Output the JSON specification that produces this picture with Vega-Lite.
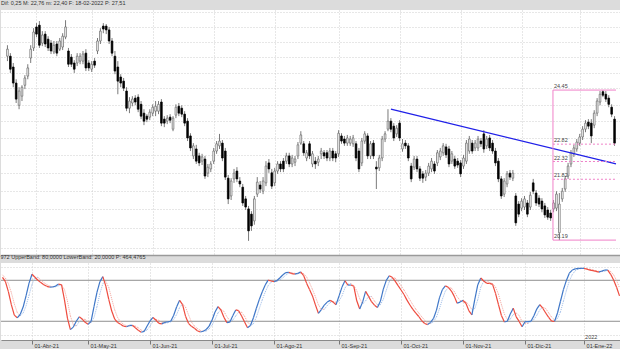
{
"$schema": "https://vega.github.io/schema/vega-lite/v6.json",
"padding": 0,
"background": "#dcdcdc",
"spacing": 0,
"config": {
  "view": {"stroke": null, "fill": "#ffffff"},
  "font": "Liberation Sans",
  "title": {"fontSize": 5.5, "fontWeight": "normal", "anchor": "start", "color": "#333333", "offset": 4, "font": "Liberation Sans"},
  "concat": {"spacing": 0}
},
"datasets": {
"ohlc": [
{"i":0,"o":25.53,"h":25.89,"l":25.37,"c":25.76,"k":84.3,"d":88},
{"i":1,"o":25.53,"h":25.63,"l":24.99,"c":25.11,"k":78.1,"d":83},
{"i":2,"o":25.18,"h":25.31,"l":24.54,"c":24.67,"k":63.3,"d":75.2},
{"i":3,"o":24.67,"h":24.79,"l":24.05,"c":24.17,"k":44.5,"d":62.0},
{"i":4,"o":23.98,"h":24.54,"l":23.86,"c":24.42,"k":29,"d":45.6},
{"i":5,"o":24.26,"h":24.60,"l":24.11,"c":24.54,"k":25.1,"d":32.9},
{"i":6,"o":24.60,"h":24.92,"l":24.48,"c":24.83,"k":29.9,"d":28.0},
{"i":7,"o":24.89,"h":25.27,"l":24.79,"c":25.15,"k":40.8,"d":31.9},
{"i":8,"o":25.47,"h":25.89,"l":25.31,"c":25.76,"k":57.6,"d":42.8},
{"i":9,"o":25.80,"h":26.46,"l":25.70,"c":26.33,"k":75.8,"d":58.1},
{"i":10,"o":26.50,"h":26.63,"l":26.16,"c":26.26,"k":88.8,"d":74.1},
{"i":11,"o":26.56,"h":26.70,"l":25.80,"c":25.89,"k":84.4,"d":83.0},
{"i":12,"o":25.96,"h":26.36,"l":25.86,"c":26.23,"k":80.1,"d":84.4},
{"i":13,"o":26.26,"h":26.36,"l":25.83,"c":25.93,"k":76.6,"d":80.4},
{"i":14,"o":26.09,"h":26.19,"l":25.70,"c":25.80,"k":73.5,"d":76.7},
{"i":15,"o":25.96,"h":26.06,"l":25.60,"c":25.70,"k":71.2,"d":73.8},
{"i":16,"o":25.67,"h":26.03,"l":25.60,"c":25.89,"k":70.0,"d":71.6},
{"i":17,"o":25.93,"h":26.03,"l":25.53,"c":25.63,"k":70.2,"d":70.5},
{"i":18,"o":25.76,"h":26.13,"l":25.70,"c":26.03,"k":71.5,"d":70.6},
{"i":19,"o":25.83,"h":26.29,"l":25.73,"c":26.19,"k":74.5,"d":72.1},
{"i":20,"o":26.16,"h":26.73,"l":26.09,"c":26.50,"k":73.5,"d":73.2},
{"i":21,"o":25.70,"h":25.80,"l":25.18,"c":25.27,"k":51.3,"d":66.4},
{"i":22,"o":25.50,"h":25.60,"l":25.18,"c":25.27,"k":24.7,"d":49.8},
{"i":23,"o":25.31,"h":25.40,"l":24.99,"c":25.11,"k":7.8,"d":27.9},
{"i":24,"o":25.31,"h":25.63,"l":25.21,"c":25.53,"k":11.5,"d":14.7},
{"i":25,"o":25.37,"h":25.63,"l":25.27,"c":25.53,"k":20.1,"d":13.1},
{"i":26,"o":25.37,"h":25.70,"l":25.27,"c":25.60,"k":26.5,"d":19.4},
{"i":27,"o":25.63,"h":25.76,"l":25.05,"c":25.15,"k":23.2,"d":23.3},
{"i":28,"o":25.31,"h":25.40,"l":25.05,"c":25.15,"k":18.4,"d":22.7},
{"i":29,"o":25.11,"h":25.37,"l":25.02,"c":25.27,"k":15.5,"d":19.0},
{"i":30,"o":25.37,"h":25.47,"l":25.15,"c":25.24,"k":19.8,"d":17.9},
{"i":31,"o":25.70,"h":26.13,"l":25.60,"c":26.03,"k":41.4,"d":25.6},
{"i":32,"o":26.03,"h":26.46,"l":25.93,"c":26.36,"k":62.3,"d":41.2},
{"i":33,"o":26.53,"h":26.63,"l":26.29,"c":26.43,"k":78,"d":60.6},
{"i":34,"o":26.53,"h":26.60,"l":26.26,"c":26.40,"k":85.3,"d":75.2},
{"i":35,"o":26.40,"h":26.50,"l":25.93,"c":26.03,"k":71.5,"d":78.3},
{"i":36,"o":26.03,"h":26.13,"l":25.53,"c":25.63,"k":52,"d":69.6},
{"i":37,"o":25.53,"h":25.70,"l":24.95,"c":25.05,"k":35,"d":52.8},
{"i":38,"o":25.18,"h":25.37,"l":24.32,"c":24.73,"k":23.3,"d":36.8},
{"i":39,"o":24.86,"h":24.95,"l":24.54,"c":24.67,"k":18.2,"d":25.5},
{"i":40,"o":24.73,"h":24.83,"l":24.42,"c":24.51,"k":15.7,"d":19.1},
{"i":41,"o":24.42,"h":24.54,"l":23.80,"c":23.89,"k":12.8,"d":15.6},
{"i":42,"o":23.89,"h":24.23,"l":23.74,"c":24.11,"k":12,"d":13.5},
{"i":43,"o":24.05,"h":24.26,"l":23.95,"c":24.17,"k":13.9,"d":12.9},
{"i":44,"o":24.20,"h":24.29,"l":23.98,"c":24.08,"k":14.1,"d":13.3},
{"i":45,"o":24.23,"h":24.32,"l":23.77,"c":23.86,"k":10.6,"d":12.9},
{"i":46,"o":24.01,"h":24.11,"l":23.56,"c":23.65,"k":6.7,"d":10.5},
{"i":47,"o":23.74,"h":23.86,"l":23.38,"c":23.50,"k":3.9,"d":7.1},
{"i":48,"o":23.65,"h":23.71,"l":23.47,"c":23.56,"k":5.2,"d":5.3},
{"i":49,"o":23.62,"h":23.86,"l":23.53,"c":23.77,"k":13,"d":7.4},
{"i":50,"o":23.74,"h":24.01,"l":23.65,"c":23.92,"k":20.8,"d":13.0},
{"i":51,"o":23.80,"h":24.11,"l":23.65,"c":23.95,"k":25.6,"d":19.8},
{"i":52,"o":23.80,"h":24.11,"l":23.71,"c":24.01,"k":21.5,"d":22.6},
{"i":53,"o":24.08,"h":24.17,"l":23.35,"c":23.44,"k":16.8,"d":21.3},
{"i":54,"o":23.56,"h":23.65,"l":23.32,"c":23.44,"k":16.2,"d":18.2},
{"i":55,"o":23.50,"h":23.68,"l":23.41,"c":23.59,"k":18.5,"d":17.2},
{"i":56,"o":23.62,"h":23.71,"l":23.44,"c":23.53,"k":19.3,"d":18.0},
{"i":57,"o":23.26,"h":23.65,"l":23.20,"c":23.59,"k":20.0,"d":19.3},
{"i":58,"o":23.68,"h":24.01,"l":23.59,"c":23.92,"k":28.8,"d":22.7},
{"i":59,"o":23.95,"h":24.05,"l":23.65,"c":23.74,"k":41.2,"d":30.0},
{"i":60,"o":23.89,"h":23.98,"l":23.62,"c":23.71,"k":50.6,"d":40.2},
{"i":61,"o":23.71,"h":23.80,"l":23.35,"c":23.44,"k":44.3,"d":45.4},
{"i":62,"o":23.50,"h":23.59,"l":22.91,"c":23.00,"k":27.4,"d":40.8},
{"i":63,"o":23.06,"h":23.14,"l":22.62,"c":22.71,"k":17,"d":29.6},
{"i":64,"o":22.48,"h":22.85,"l":22.39,"c":22.77,"k":12.6,"d":19.0},
{"i":65,"o":22.68,"h":22.80,"l":22.25,"c":22.33,"k":9.7,"d":13.1},
{"i":66,"o":22.48,"h":22.57,"l":22.19,"c":22.28,"k":6.2,"d":9.5},
{"i":67,"o":22.33,"h":22.54,"l":22.22,"c":22.45,"k":4.3,"d":6.7},
{"i":68,"o":22.39,"h":22.48,"l":21.83,"c":21.91,"k":5.4,"d":5.3},
{"i":69,"o":21.99,"h":22.25,"l":21.88,"c":22.16,"k":8.0,"d":5.9},
{"i":70,"o":22.11,"h":22.33,"l":22.02,"c":22.25,"k":12.9,"d":8.8},
{"i":71,"o":22.33,"h":22.71,"l":22.25,"c":22.62,"k":21.9,"d":14.3},
{"i":72,"o":22.62,"h":22.91,"l":22.54,"c":22.83,"k":33.7,"d":22.8},
{"i":73,"o":22.77,"h":23.12,"l":22.68,"c":22.91,"k":41.4,"d":32.3},
{"i":74,"o":22.85,"h":22.94,"l":22.33,"c":22.42,"k":36.5,"d":37.2},
{"i":75,"o":22.62,"h":22.71,"l":21.80,"c":21.88,"k":26,"d":34.6},
{"i":76,"o":21.85,"h":21.94,"l":21.14,"c":21.28,"k":18,"d":26.8},
{"i":77,"o":21.36,"h":21.85,"l":21.25,"c":21.77,"k":18.7,"d":20.9},
{"i":78,"o":21.83,"h":22.11,"l":21.72,"c":21.99,"k":28.2,"d":21.6},
{"i":79,"o":22.05,"h":22.16,"l":21.74,"c":21.83,"k":36.6,"d":27.8},
{"i":80,"o":21.77,"h":21.88,"l":21.60,"c":21.69,"k":35.5,"d":33.4},
{"i":81,"o":21.60,"h":21.69,"l":21.09,"c":21.17,"k":27.7,"d":33.3},
{"i":82,"o":21.28,"h":21.36,"l":20.98,"c":21.06,"k":18.8,"d":27.3},
{"i":83,"o":21.01,"h":21.09,"l":20.17,"c":20.43,"k":10.4,"d":19.0},
{"i":84,"o":20.87,"h":20.95,"l":20.43,"c":20.56,"k":13.7,"d":14.3},
{"i":85,"o":20.69,"h":21.36,"l":20.59,"c":21.28,"k":25.2,"d":16.4},
{"i":86,"o":21.41,"h":21.88,"l":21.33,"c":21.74,"k":39.1,"d":26.0},
{"i":87,"o":21.66,"h":21.77,"l":21.44,"c":21.55,"k":52,"d":38.8},
{"i":88,"o":21.49,"h":21.88,"l":21.41,"c":21.77,"k":63.3,"d":51.5},
{"i":89,"o":21.72,"h":22.33,"l":21.63,"c":22.19,"k":73.2,"d":62.8},
{"i":90,"o":22.28,"h":22.39,"l":22.00,"c":22.11,"k":80.2,"d":72.2},
{"i":91,"o":22.00,"h":22.11,"l":21.55,"c":21.63,"k":79,"d":77.5},
{"i":92,"o":21.72,"h":22.14,"l":21.63,"c":22.05,"k":78.1,"d":79.1},
{"i":93,"o":22.05,"h":22.33,"l":21.97,"c":22.25,"k":79.6,"d":78.9},
{"i":94,"o":22.25,"h":22.33,"l":22.02,"c":22.11,"k":83.7,"d":80.5},
{"i":95,"o":22.33,"h":22.42,"l":22.02,"c":22.11,"k":88.1,"d":83.8},
{"i":96,"o":22.33,"h":22.57,"l":22.25,"c":22.48,"k":91.3,"d":87.7},
{"i":97,"o":22.48,"h":22.57,"l":22.16,"c":22.25,"k":91.7,"d":90.4},
{"i":98,"o":22.25,"h":22.51,"l":22.16,"c":22.42,"k":89.7,"d":90.9},
{"i":99,"o":22.30,"h":22.48,"l":22.19,"c":22.39,"k":89.0,"d":90.1},
{"i":100,"o":22.48,"h":22.88,"l":22.39,"c":22.80,"k":90,"d":89.6},
{"i":101,"o":22.85,"h":23.20,"l":22.80,"c":23.09,"k":92.3,"d":90.4},
{"i":102,"o":22.83,"h":22.91,"l":22.48,"c":22.57,"k":86.9,"d":89.7},
{"i":103,"o":22.42,"h":22.65,"l":22.33,"c":22.57,"k":75.8,"d":85.0},
{"i":104,"o":22.83,"h":22.91,"l":22.39,"c":22.48,"k":66.6,"d":76.4},
{"i":105,"o":22.25,"h":22.62,"l":22.16,"c":22.54,"k":57.1,"d":66.5},
{"i":106,"o":22.33,"h":22.45,"l":22.11,"c":22.25,"k":44,"d":55.9},
{"i":107,"o":22.30,"h":22.48,"l":22.19,"c":22.39,"k":31.7,"d":44.3},
{"i":108,"o":22.54,"h":22.71,"l":22.39,"c":22.62,"k":37.2,"d":37.6},
{"i":109,"o":22.57,"h":22.65,"l":22.39,"c":22.48,"k":43.7,"d":37.5},
{"i":110,"o":22.57,"h":22.65,"l":22.33,"c":22.42,"k":48.1,"d":43.0},
{"i":111,"o":22.42,"h":22.71,"l":22.33,"c":22.62,"k":50.6,"d":47.5},
{"i":112,"o":22.62,"h":22.71,"l":22.33,"c":22.42,"k":48.1,"d":48.9},
{"i":113,"o":22.54,"h":22.62,"l":22.30,"c":22.42,"k":44.3,"d":47.7},
{"i":114,"o":22.54,"h":23.23,"l":22.45,"c":23.14,"k":57.2,"d":49.9},
{"i":115,"o":23.06,"h":23.14,"l":22.83,"c":22.91,"k":70,"d":57.2},
{"i":116,"o":22.97,"h":23.06,"l":22.77,"c":22.85,"k":79.3,"d":68.8},
{"i":117,"o":22.85,"h":23.09,"l":22.77,"c":23.00,"k":73,"d":74.1},
{"i":118,"o":22.85,"h":23.06,"l":22.77,"c":22.97,"k":73,"d":75.1},
{"i":119,"o":22.83,"h":23.09,"l":22.74,"c":23.00,"k":71.2,"d":72.4},
{"i":120,"o":22.83,"h":22.91,"l":22.33,"c":22.42,"k":50,"d":64.7},
{"i":121,"o":22.62,"h":22.71,"l":22.02,"c":22.11,"k":37.9,"d":53.0},
{"i":122,"o":22.28,"h":23.00,"l":22.19,"c":22.91,"k":48.4,"d":45.4},
{"i":123,"o":22.91,"h":23.20,"l":22.83,"c":23.12,"k":63.7,"d":50.0},
{"i":124,"o":23.06,"h":23.14,"l":22.39,"c":22.48,"k":56.5,"d":56.2},
{"i":125,"o":22.48,"h":22.91,"l":22.39,"c":22.83,"k":48.7,"d":56.3},
{"i":126,"o":22.85,"h":22.94,"l":22.39,"c":22.48,"k":43.6,"d":49.6},
{"i":127,"o":22.16,"h":22.33,"l":21.55,"c":22.11,"k":40.2,"d":44.2},
{"i":128,"o":22.14,"h":22.51,"l":22.05,"c":22.42,"k":49.2,"d":44.3},
{"i":129,"o":22.42,"h":23.06,"l":22.33,"c":22.97,"k":67.1,"d":52.2},
{"i":130,"o":22.97,"h":23.20,"l":22.88,"c":23.12,"k":79.9,"d":65.4},
{"i":131,"o":23.26,"h":23.86,"l":23.20,"c":23.50,"k":86.7,"d":77.9},
{"i":132,"o":23.50,"h":23.59,"l":23.17,"c":23.26,"k":84.3,"d":83.6},
{"i":133,"o":23.35,"h":23.44,"l":22.91,"c":23.00,"k":78.7,"d":83.2},
{"i":134,"o":23.12,"h":23.38,"l":23.03,"c":23.29,"k":72.1,"d":78.4},
{"i":135,"o":23.44,"h":23.53,"l":22.91,"c":23.00,"k":65.8,"d":72.2},
{"i":136,"o":22.68,"h":22.97,"l":22.60,"c":22.83,"k":59.2,"d":65.7},
{"i":137,"o":22.85,"h":22.94,"l":22.68,"c":22.77,"k":51,"d":58.7},
{"i":138,"o":22.77,"h":22.85,"l":22.33,"c":22.42,"k":43.8,"d":51.3},
{"i":139,"o":22.19,"h":22.28,"l":21.74,"c":21.83,"k":37.4,"d":44.1},
{"i":140,"o":22.16,"h":22.48,"l":22.08,"c":22.39,"k":31.9,"d":37.7},
{"i":141,"o":22.39,"h":22.48,"l":22.02,"c":22.11,"k":27,"d":32.1},
{"i":142,"o":22.11,"h":22.19,"l":21.77,"c":21.85,"k":20.9,"d":26.6},
{"i":143,"o":21.97,"h":22.05,"l":21.72,"c":21.85,"k":16.7,"d":21.5},
{"i":144,"o":21.88,"h":22.08,"l":21.77,"c":21.99,"k":15.2,"d":17.6},
{"i":145,"o":21.99,"h":22.28,"l":21.91,"c":22.19,"k":18.4,"d":16.8},
{"i":146,"o":22.11,"h":22.42,"l":22.02,"c":22.33,"k":24.1,"d":19.2},
{"i":147,"o":22.25,"h":22.33,"l":21.97,"c":22.05,"k":36.4,"d":26.3},
{"i":148,"o":22.28,"h":22.65,"l":22.19,"c":22.57,"k":54.2,"d":38.2},
{"i":149,"o":22.45,"h":22.71,"l":22.36,"c":22.62,"k":66.3,"d":52.3},
{"i":150,"o":22.57,"h":22.85,"l":22.48,"c":22.77,"k":71.8,"d":64.1},
{"i":151,"o":22.74,"h":22.83,"l":22.42,"c":22.51,"k":69.7,"d":69.3},
{"i":152,"o":22.68,"h":22.77,"l":22.16,"c":22.25,"k":64.6,"d":68.7},
{"i":153,"o":22.33,"h":22.62,"l":22.25,"c":22.54,"k":56.8,"d":63.7},
{"i":154,"o":22.39,"h":22.48,"l":22.11,"c":22.19,"k":46.5,"d":56.0},
{"i":155,"o":22.33,"h":22.42,"l":22.14,"c":22.22,"k":48.1,"d":50.5},
{"i":156,"o":22.28,"h":22.36,"l":21.88,"c":21.97,"k":50.7,"d":48.4},
{"i":157,"o":22.19,"h":22.51,"l":22.11,"c":22.42,"k":46,"d":48.3},
{"i":158,"o":22.33,"h":22.94,"l":22.25,"c":22.85,"k":35.2,"d":44.0},
{"i":159,"o":22.62,"h":23.06,"l":22.54,"c":22.97,"k":29.3,"d":36.8},
{"i":160,"o":22.85,"h":22.94,"l":22.54,"c":22.62,"k":52.3,"d":38.9},
{"i":161,"o":22.71,"h":22.94,"l":22.62,"c":22.85,"k":73.5,"d":51.7},
{"i":162,"o":22.71,"h":23.06,"l":22.62,"c":22.97,"k":83.3,"d":69.7},
{"i":163,"o":22.91,"h":23.00,"l":22.74,"c":22.83,"k":79,"d":78.6},
{"i":164,"o":23.12,"h":23.23,"l":22.57,"c":22.68,"k":75.6,"d":79.3},
{"i":165,"o":22.77,"h":23.06,"l":22.68,"c":22.97,"k":75.5,"d":76.7},
{"i":166,"o":23.00,"h":23.09,"l":22.62,"c":22.71,"k":74.1,"d":75.1},
{"i":167,"o":22.85,"h":22.94,"l":22.54,"c":22.62,"k":60.8,"d":70.1},
{"i":168,"o":22.62,"h":22.71,"l":22.19,"c":22.28,"k":44.3,"d":59.7},
{"i":169,"o":22.33,"h":22.42,"l":21.74,"c":21.83,"k":28.5,"d":44.5},
{"i":170,"o":21.83,"h":21.91,"l":21.28,"c":21.36,"k":18.9,"d":30.6},
{"i":171,"o":21.41,"h":21.85,"l":21.33,"c":21.77,"k":20,"d":22.5},
{"i":172,"o":21.69,"h":22.05,"l":21.60,"c":21.97,"k":30.6,"d":23.2},
{"i":173,"o":21.99,"h":22.08,"l":21.80,"c":21.88,"k":39.2,"d":29.9},
{"i":174,"o":21.85,"h":22.08,"l":21.77,"c":21.99,"k":26.5,"d":32.1},
{"i":175,"o":21.36,"h":21.44,"l":20.56,"c":20.64,"k":19.8,"d":28.5},
{"i":176,"o":21.14,"h":21.22,"l":20.79,"c":20.87,"k":12,"d":19.4},
{"i":177,"o":21.03,"h":21.30,"l":20.95,"c":21.22,"k":19.4,"d":17.1},
{"i":178,"o":21.06,"h":21.36,"l":20.98,"c":21.28,"k":19.4,"d":16.9},
{"i":179,"o":21.17,"h":21.25,"l":20.79,"c":20.87,"k":20,"d":19.6},
{"i":180,"o":21.06,"h":21.47,"l":20.98,"c":21.38,"k":28.1,"d":22.5},
{"i":181,"o":21.72,"h":21.83,"l":21.41,"c":21.49,"k":38.2,"d":28.8},
{"i":182,"o":21.44,"h":21.52,"l":21.09,"c":21.17,"k":44.5,"d":36.9},
{"i":183,"o":21.30,"h":21.38,"l":21.06,"c":21.14,"k":39.1,"d":40.6},
{"i":184,"o":21.22,"h":21.30,"l":20.92,"c":21.01,"k":32.1,"d":38.6},
{"i":185,"o":21.09,"h":21.17,"l":20.77,"c":20.85,"k":25.7,"d":32.3},
{"i":186,"o":20.98,"h":21.06,"l":20.72,"c":20.79,"k":20.1,"d":26.0},
{"i":187,"o":20.90,"h":20.98,"l":20.69,"c":20.77,"k":20,"d":21.9},
{"i":188,"o":21.01,"h":21.25,"l":20.92,"c":21.17,"k":32.2,"d":24.1},
{"i":189,"o":21.03,"h":21.49,"l":20.95,"c":21.41,"k":49.3,"d":33.8},
{"i":190,"o":20.38,"h":21.44,"l":20.19,"c":21.14,"k":66.3,"d":49.3},
{"i":191,"o":21.28,"h":21.58,"l":21.20,"c":21.49,"k":79.8,"d":65.1},
{"i":192,"o":21.55,"h":21.91,"l":21.47,"c":21.83,"k":90.4,"d":78.8},
{"i":193,"o":21.91,"h":22.28,"l":21.83,"c":22.19,"k":95,"d":88.4},
{"i":194,"o":22.25,"h":22.65,"l":22.16,"c":22.57,"k":96.7,"d":94.0},
{"i":195,"o":22.54,"h":22.80,"l":22.45,"c":22.71,"k":97.3,"d":96.3},
{"i":196,"o":22.68,"h":22.97,"l":22.60,"c":22.88,"k":97.5,"d":97.2},
{"i":197,"o":22.85,"h":23.12,"l":22.77,"c":23.03,"k":97.5,"d":97.4},
{"i":198,"o":23.03,"h":23.35,"l":22.94,"c":23.26,"k":96.1,"d":97.0},
{"i":199,"o":23.26,"h":23.53,"l":23.17,"c":23.44,"k":94.8,"d":96.1},
{"i":200,"o":23.47,"h":23.56,"l":23.26,"c":23.35,"k":94.1,"d":95.0},
{"i":201,"o":23.44,"h":23.56,"l":22.85,"c":23.06,"k":93,"d":94.0},
{"i":202,"o":23.38,"h":23.83,"l":23.29,"c":23.74,"k":91.9,"d":93.0},
{"i":203,"o":23.74,"h":24.20,"l":23.65,"c":24.11,"k":93.5,"d":92.8},
{"i":204,"o":24.08,"h":24.42,"l":23.98,"c":24.32,"k":95,"d":93.5},
{"i":205,"o":24.40,"h":24.45,"l":24.23,"c":24.29,"k":95,"d":94.5},
{"i":206,"o":24.32,"h":24.42,"l":24.08,"c":24.17,"k":88.7,"d":92.9},
{"i":207,"o":24.20,"h":24.29,"l":23.92,"c":24.01,"k":80.4,"d":88.0},
{"i":208,"o":23.92,"h":24.01,"l":23.62,"c":23.71,"k":69.9,"d":79.7},
{"i":209,"o":23.56,"h":23.65,"l":22.77,"c":22.85,"k":57.1,"d":69.1}
],
"trend": [{"i":132,"p":23.86},{"i":209.5,"p":22.25}],
"fib": [
{"lv":24.45,"lab":"24.45","solid":true},
{"lv":22.82,"lab":"22.82","solid":false},
{"lv":22.32,"lab":"22.32","solid":false},
{"lv":21.82,"lab":"21.82","solid":false},
{"lv":20.19,"lab":"20.19","solid":true}
],
"bands": [{"b":20},{"b":80}],
"year": [{"i":197,"v":-8,"t":"2022"}]
},
"vconcat": [
{
  "width": 620,
  "height": 245,
  "title": {"text": "Dif: 0,25   M: 22,76   m: 22,40   F: 18-02-2022   P: 27,51"},
  "layer": [
    {
      "data": {"name": "ohlc"},
      "mark": {"type": "rule", "color": "#7a7a7a", "strokeWidth": 1, "clip": true},
      "encoding": {
        "x": {"field": "i", "type": "quantitative",
              "scale": {"domain": [-0.5, 209.5], "nice": false, "zero": false},
              "axis": {"values": [10,29,50,71,92,114,135,156,177,197], "labels": false, "ticks": false, "domain": true, "domainColor": "#9a9a9a", "domainWidth": 1.5, "grid": true, "gridColor": "#cfcfcf", "gridDash": [1,2], "title": null}},
        "y": {"field": "l", "type": "quantitative",
              "scale": {"type": "log", "domain": [19.81, 27.08], "nice": false, "zero": false},
              "axis": {"values": [20,20.5,21,21.5,22,22.5,23,23.5,24,24.5,25,25.5,26,26.5,27], "labels": false, "ticks": false, "domain": false, "grid": true, "gridColor": "#cfcfcf", "gridDash": [1,2], "title": null}},
        "y2": {"field": "h"}
      }
    },
    {
      "data": {"name": "ohlc"},
      "mark": {"type": "bar", "size": 1.7, "strokeWidth": 0.7, "clip": true},
      "encoding": {
        "x": {"field": "i", "type": "quantitative"},
        "y": {"field": "o", "type": "quantitative"},
        "y2": {"field": "c"},
        "fill": {"condition": {"test": "datum.c >= datum.o", "value": "#ffffff"}, "value": "#000000"},
        "stroke": {"condition": {"test": "datum.c >= datum.o", "value": "#666666"}, "value": "#000000"}
      }
    },
    {
      "data": {"name": "trend"},
      "mark": {"type": "line", "color": "#2020e8", "strokeWidth": 1.3, "clip": true},
      "encoding": {
        "x": {"field": "i", "type": "quantitative"},
        "y": {"field": "p", "type": "quantitative"}
      }
    },
    {
      "data": {"name": "fib"},
      "transform": [{"filter": "datum.solid"}],
      "mark": {"type": "rule", "color": "#f080c8", "strokeWidth": 1, "clip": true},
      "encoding": {
        "x": {"datum": 187.8},
        "x2": {"datum": 209.5},
        "y": {"field": "lv", "type": "quantitative"}
      }
    },
    {
      "data": {"name": "fib"},
      "transform": [{"filter": "!datum.solid"}],
      "mark": {"type": "rule", "color": "#f080c8", "strokeWidth": 1, "strokeDash": [2, 2], "clip": true},
      "encoding": {
        "x": {"datum": 187.8},
        "x2": {"datum": 209.5},
        "y": {"field": "lv", "type": "quantitative"}
      }
    },
    {
      "data": {"name": "fib"},
      "transform": [{"filter": "datum.lv == 24.45"}],
      "mark": {"type": "rule", "color": "#f080c8", "strokeWidth": 1},
      "encoding": {
        "x": {"datum": 187.8},
        "y": {"datum": 24.45},
        "y2": {"datum": 20.19}
      }
    },
    {
      "data": {"name": "fib"},
      "mark": {"type": "text", "align": "left", "baseline": "bottom", "fontSize": 5.5, "color": "#444444", "dx": 1, "dy": -1},
      "encoding": {
        "x": {"datum": 187.8},
        "y": {"field": "lv", "type": "quantitative"},
        "text": {"field": "lab"}
      }
    }
  ]
},
{
  "width": 620,
  "height": 77,
  "title": {"text": "972 UpperBand: 80,0000 LowerBand: 20,0000 P: 464,4765", "offset": 2.5},
  "layer": [
    {
      "data": {"name": "bands"},
      "mark": {"type": "rule", "color": "#8f8f8f", "strokeWidth": 1},
      "encoding": {
        "y": {"field": "b", "type": "quantitative",
              "scale": {"domain": [-7.4, 105.3], "nice": false, "zero": false},
              "axis": {"values": [0, 100], "labels": false, "ticks": false, "domain": false, "grid": true, "gridColor": "#cfcfcf", "gridDash": [1,2], "title": null}}
      }
    },
    {
      "data": {"name": "ohlc"},
      "transform": [
        {"window": [{"op": "lead", "field": "k", "as": "kn"}, {"op": "lead", "field": "d", "as": "dn"}, {"op": "lead", "field": "i", "as": "inx"}], "sort": [{"field": "i"}]},
        {"filter": "isValid(datum.kn)"}
      ],
      "mark": {"type": "rule", "strokeWidth": 1, "strokeDash": [1, 1], "clip": true},
      "encoding": {
        "x": {"field": "i", "type": "quantitative",
              "scale": {"domain": [-0.5, 209.5], "nice": false, "zero": false},
              "axis": {"values": [10,29,50,71,92,114,135,156,177,197],
                       "labelExpr": "['01-Abr-21','01-May-21','01-Jun-21','01-Jul-21','01-Ago-21','01-Sep-21','01-Oct-21','01-Nov-21','01-Dic-21','01-Ene-22'][indexof([10,29,50,71,92,114,135,156,177,197], datum.value)]",
                       "labelAlign": "left", "labelOffset": 2, "labelFontSize": 5.5, "labelColor": "#333333", "labelPadding": -1,
                       "labelFlush": false, "labelOverlap": false, "labelBound": false,
                       "tickSize": 4, "tickColor": "#777777", "domainColor": "#8a8a8a",
                       "grid": true, "gridColor": "#cfcfcf", "gridDash": [1,2], "title": null}},
        "x2": {"field": "inx"},
        "y": {"field": "d", "type": "quantitative"},
        "y2": {"field": "dn"},
        "color": {"condition": {"test": "datum.dn >= datum.d", "value": "#9dbbe8"}, "value": "#f4a29a"}
      }
    },
    {
      "data": {"name": "ohlc"},
      "transform": [
        {"window": [{"op": "lead", "field": "k", "as": "kn"}, {"op": "lead", "field": "i", "as": "inx"}], "sort": [{"field": "i"}]},
        {"filter": "isValid(datum.kn)"}
      ],
      "mark": {"type": "rule", "strokeWidth": 1.2, "clip": true},
      "encoding": {
        "x": {"field": "i", "type": "quantitative"},
        "x2": {"field": "inx"},
        "y": {"field": "k", "type": "quantitative"},
        "y2": {"field": "kn"},
        "color": {"condition": {"test": "datum.kn >= datum.k", "value": "#3f77c8"}, "value": "#ee4b3e"}
      }
    },
    {
      "data": {"name": "year"},
      "mark": {"type": "text", "align": "left", "baseline": "bottom", "fontSize": 5.5, "color": "#444444", "dx": 1},
      "encoding": {
        "x": {"field": "i", "type": "quantitative"},
        "y": {"field": "v", "type": "quantitative"},
        "text": {"field": "t"}
      }
    }
  ]
}
]
}
